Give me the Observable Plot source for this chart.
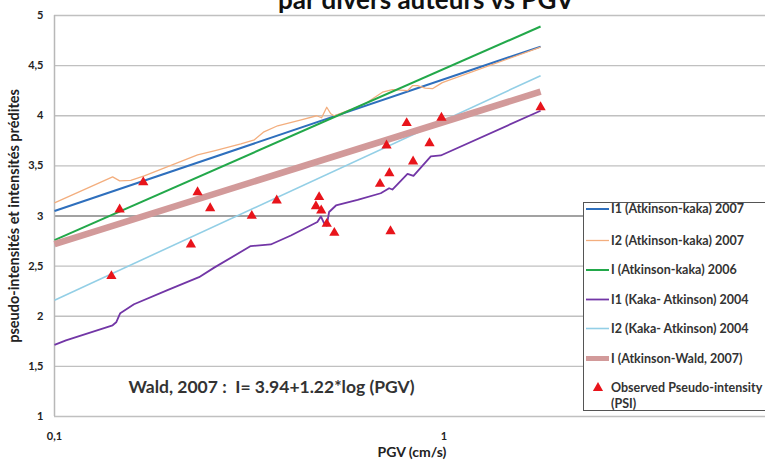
<!DOCTYPE html>
<html>
<head>
<meta charset="utf-8">
<script src="https://cdn.jsdelivr.net/npm/d3@7"></script>
<script src="https://cdn.jsdelivr.net/npm/@observablehq/plot@0.6"></script>
<style>
  html, body { margin: 0; padding: 0; background: #fff; }
  #chart { position: relative; width: 765px; height: 460px; overflow: hidden; }
</style>
</head>
<body>
<div id="chart"></div>
<script>
// ---------- data ----------
const titleText = "par divers auteurs vs PGV";
const xLabel = "PGV (cm/s)";
const yLabel = "pseudo-intensités et intensités prédites";
const waldText = "Wald, 2007 :  I= 3.94+1.22*log (PGV)";

const xTicks = [0.1, 1];
const yTicks = [1, 1.5, 2, 2.5, 3, 3.5, 4, 4.5, 5];
const xDomain = [0.1, 6.69];
const yDomain = [1, 5];

const seriesNames = [
  "I1 (Atkinson-kaka) 2007",
  "I2 (Atkinson-kaka) 2007",
  "I (Atkinson-kaka) 2006",
  "I1 (Kaka- Atkinson) 2004",
  "I2 (Kaka- Atkinson) 2004",
  "I (Atkinson-Wald, 2007)"
];
const seriesColors = ["#2e6fbd", "#f3ae7e", "#22a84a", "#7236a6", "#93cfe6", "#d29a9a"];
const seriesWidths = [2, 1.3, 2, 1.8, 1.6, 6.5];

const i1AtkKaka2007PGV = [0.1, 1.77];
const i1AtkKaka2007I   = [3.05, 4.69];

const i2AtkKaka2007PGV = [0.1, 0.141, 0.147, 0.157, 0.170, 0.233, 0.257, 0.301, 0.326, 0.345, 0.374, 0.43, 0.471, 0.485, 0.50, 0.512, 0.522, 0.576, 0.630, 0.695, 0.737, 0.806, 0.830, 0.855, 0.895, 0.934, 0.962, 0.99, 1.77];
const i2AtkKaka2007I   = [3.13, 3.39, 3.35, 3.355, 3.40, 3.61, 3.65, 3.72, 3.76, 3.84, 3.90, 3.96, 4.00, 3.98, 4.085, 4.02, 4.00, 4.06, 4.125, 4.235, 4.26, 4.25, 4.30, 4.30, 4.275, 4.27, 4.30, 4.33, 4.685];

const iAtkKaka2006PGV = [0.1, 1.77];
const iAtkKaka2006I   = [2.76, 4.89];

const i1KakaAtk2004PGV = [0.1, 0.107, 0.141, 0.144, 0.1475, 0.160, 0.195, 0.235, 0.257, 0.319, 0.359, 0.4045, 0.473, 0.483, 0.492, 0.500, 0.507, 0.528, 0.600, 0.688, 0.723, 0.737, 0.806, 0.835, 0.925, 0.981, 1.77];
const i1KakaAtk2004I   = [1.715, 1.76, 1.91, 1.94, 2.03, 2.12, 2.26, 2.39, 2.485, 2.70, 2.716, 2.805, 2.94, 2.995, 2.93, 2.905, 3.04, 3.105, 3.16, 3.227, 3.277, 3.264, 3.42, 3.40, 3.594, 3.604, 4.05];

const i2KakaAtk2004PGV = [0.1, 1.77];
const i2KakaAtk2004I   = [2.16, 4.40];

const iAtkWald2007PGV = [0.1, 1.77];
const iAtkWald2007I   = [2.72, 4.24];

const obsName = "Observed Pseudo-intensity";
const obsName2 = "(PSI)";
const obsColor = "#e8141b";
const obsPGV = [0.140, 0.147, 0.169, 0.224, 0.233, 0.251, 0.321, 0.372, 0.478, 0.469, 0.484, 0.500, 0.523, 0.685, 0.724, 0.729, 0.712, 0.802, 0.833, 0.918, 0.985, 1.770];
const obsPSI = [2.40, 3.065, 3.337, 2.716, 3.237, 3.078, 3.002, 3.155, 3.188, 3.098, 3.055, 2.922, 2.832, 3.321, 3.427, 2.848, 3.703, 3.926, 3.544, 3.726, 3.98, 4.085];

// ---------- build tables ----------
const seriesX = [i1AtkKaka2007PGV, i2AtkKaka2007PGV, iAtkKaka2006PGV, i1KakaAtk2004PGV, i2KakaAtk2004PGV, iAtkWald2007PGV];
const seriesY = [i1AtkKaka2007I, i2AtkKaka2007I, iAtkKaka2006I, i1KakaAtk2004I, i2KakaAtk2004I, iAtkWald2007I];
const series = seriesNames.map((name, k) => ({
  name, color: seriesColors[k], width: seriesWidths[k],
  rows: seriesX[k].map((x, j) => ({pgv: x, I: seriesY[k][j]}))
}));
const obs = obsPGV.map((x, j) => ({pgv: x, I: obsPSI[j]}));

const FONT = "Lato, 'Open Sans', sans-serif";
const comma = d => String(d).replace(".", ",");

const chart = Plot.plot({
  width: 765,
  height: 460,
  marginTop: 15,
  marginBottom: 44,
  marginLeft: 54,
  marginRight: 0,
  style: {fontFamily: FONT, fontSize: "11px", fontWeight: "bold", color: "#222", background: "#fff", overflow: "visible"},
  x: {type: "log", domain: xDomain},
  y: {domain: yDomain},
  marks: [
    Plot.ruleY(yTicks.filter(d => d !== 3), {stroke: "#c0c0c0", strokeWidth: 1.3}),
    Plot.ruleY(yTicks.filter(d => d === 3), {stroke: "#a2a2a2", strokeWidth: 2}),
    Plot.ruleX([xDomain[0]], {y1: yDomain[0], y2: yDomain[1], stroke: "#b8b8b8", strokeWidth: 1.5}),
    Plot.axisX(xTicks, {tickSize: 0, tickPadding: 16, tickFormat: comma, label: null, fontWeight: "bold", fontSize: 11}),
    Plot.axisY(yTicks, {tickSize: 0, tickPadding: 11, tickFormat: comma, label: null, fontWeight: "bold", fontSize: 11}),
    ...series.map(s => Plot.line(s.rows, {x: "pgv", y: "I", stroke: s.color, strokeWidth: s.width, strokeLinejoin: "round", strokeLinecap: "butt"})),
    Plot.dot(obs, {x: "pgv", y: "I", symbol: "triangle", r: 3.8, fill: obsColor, stroke: "none"}),
    Plot.text([waldText], {frameAnchor: "bottom-left", dx: 74, dy: -29, textAnchor: "start", lineAnchor: "middle", fontSize: 17.5, fontWeight: "bold", fill: "#333"})
  ]
});

const svg = d3.select(chart);
// title (cut at top edge, as in the reference)
svg.append("text").attr("x", 426).attr("y", 8.5).attr("text-anchor", "middle")
  .attr("font-size", 26).attr("font-weight", "bold").attr("fill", "#111").text(titleText);
// axis titles
svg.append("text").attr("transform", "translate(19,216) rotate(-90)").attr("text-anchor", "middle")
  .attr("font-size", 14.5).attr("font-weight", "bold").attr("fill", "#222").text(yLabel);
svg.append("text").attr("x", 412).attr("y", 456.5).attr("text-anchor", "middle")
  .attr("font-size", 14).attr("font-weight", "bold").attr("fill", "#222").text(xLabel);

// legend
const lg = svg.append("g").attr("font-size", 12.5).attr("font-weight", "bold").attr("fill", "#333").attr("text-anchor", "start");
lg.append("rect").attr("x", 583.5).attr("y", 202.5).attr("width", 260).attr("height", 208)
  .attr("fill", "#fff").attr("stroke", "#555").attr("stroke-width", 1);
const legendY = [209, 240.5, 270, 299.5, 328.5, 358.5];
series.forEach((s, k) => {
  lg.append("line").attr("x1", 586).attr("x2", 609).attr("y1", legendY[k]).attr("y2", legendY[k])
    .attr("stroke", s.color).attr("stroke-width", Math.min(s.width, 5));
  lg.append("text").attr("x", 611).attr("y", legendY[k]).attr("dy", "0.35em").text(s.name);
});
lg.append("path").attr("d", d3.symbol(d3.symbolTriangle, 45)()).attr("transform", "translate(598,388)").attr("fill", obsColor);
lg.append("text").attr("x", 611).attr("y", 388).attr("dy", "0.35em").text(obsName);
lg.append("text").attr("x", 611).attr("y", 403.5).attr("dy", "0.35em").text(obsName2);

document.getElementById("chart").appendChild(chart);
</script>
</body>
</html>
